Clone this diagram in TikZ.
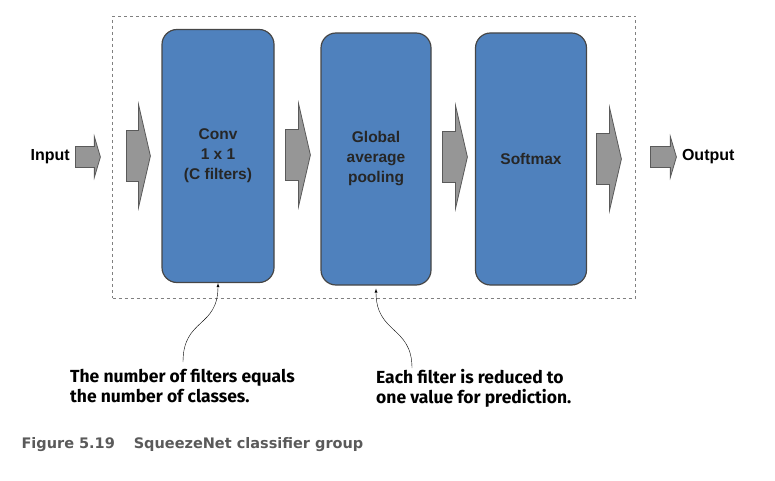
\documentclass[tikz,border=0pt]{standalone}
\usepackage{fontspec}
\setmainfont{Liberation Sans}
\newfontfamily\notefont{Fira Sans}
\newfontfamily\capfont{DejaVu Sans}
\usetikzlibrary{shapes.arrows, arrows}

\definecolor{layerblue}{RGB}{79,129,189}
\definecolor{layeredge}{RGB}{70,70,70}
\definecolor{arrowgray}{RGB}{150,150,150}
\definecolor{arrowedge}{RGB}{90,90,90}
\definecolor{captiongray}{RGB}{90,90,90}

\tikzset{
	layer/.style={draw=layeredge, fill=layerblue, line width=1.2pt,
		rounded corners=15pt, minimum width=112pt, minimum height=253pt,
		align=center, font=\fontsize{15.5}{20}\selectfont\bfseries, text=black!85},
	bigarrow/.style={single arrow, draw=arrowedge, fill=arrowgray, line width=0.8pt,
		anchor=tail, inner xsep=0pt, inner ysep=25pt, minimum height=24pt,
		single arrow head extend=26pt, single arrow tip angle=154},
	smallarrow/.style={single arrow, draw=arrowedge, fill=arrowgray, line width=0.8pt,
		anchor=tail, inner xsep=0pt, inner ysep=10pt, minimum height=25pt,
		single arrow head extend=10pt, single arrow tip angle=147},
	note/.style={anchor=north west, align=left, inner sep=0pt,
		font=\notefont\fontsize{17.5}{20}\selectfont\bfseries}
}

\begin{document}
\begin{tikzpicture}[x=1pt, y=-1pt, >=latex]
	\useasboundingbox (0,0) rectangle (775,481);
	% classifier group
	\node[draw=gray, dashed, minimum width=523pt, minimum height=282pt, inner sep=0pt] (group) at (374,157) {};
	\node[layer] (conv) at (218,156) {Conv\\1 x 1\\(C filters)};
	\node[layer, minimum width=110pt, minimum height=252pt] (gap) at (376,159) {Global\\average\\pooling};
	\node[layer, minimum width=111pt, minimum height=252pt] (softmax) at (531,159) {Softmax};
	% arrows
	\node[smallarrow] (inarrow) at (75,157) {};
	\node[bigarrow] (arrow1) at (126,156) {};
	\node[bigarrow, minimum height=25pt] (arrow2) at (285,155) {};
	\node[bigarrow, minimum height=25pt] (arrow3) at (442,157) {};
	\node[bigarrow, minimum height=25pt] (arrow4) at (596,159) {};
	\node[smallarrow, minimum height=26pt] (outarrow) at (650,157) {};
	\node[anchor=east, inner xsep=5pt, font=\fontsize{16}{18}\selectfont\bfseries] (input) at (inarrow.tail) {Input};
	\node[anchor=west, inner xsep=5pt, font=\fontsize{16}{18}\selectfont\bfseries] (output) at (outarrow.tip) {Output};
	% notes
	\node[note] (note1) at (70,369) {The number of filters equals\\the number of classes.};
	\node[note] (note2) at (376,369) {Each filter is reduced to\\one value for prediction.};
	\coordinate (n1) at (183,362);
	\coordinate (n2) at (412,368);
	\draw[->, thin] (n1) .. controls (183,318) and (218,328) .. (conv.south);
	\draw[->, thin] (n2) .. controls (412,326) and (376,334) .. ([yshift=-3pt]gap.south);
	% caption
	\node[anchor=west, text=captiongray, font=\capfont\fontsize{14.5}{16}\selectfont\bfseries] (caption) at (18,445) {Figure 5.19\hspace{1.3em}SqueezeNet classifier group};
\end{tikzpicture}
\end{document}
